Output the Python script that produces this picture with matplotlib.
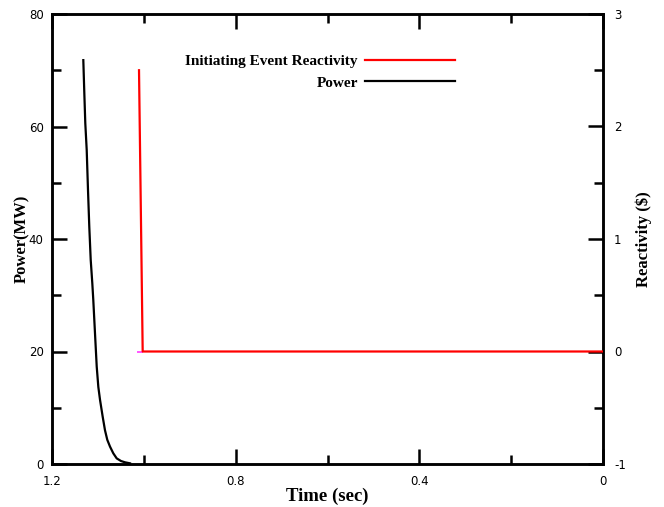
import matplotlib
matplotlib.use("Agg")
import matplotlib.pyplot as plt

plt.rcParams["axes.unicode_minus"] = False

# Power transient (MW) versus time (s)
power_time = [1.1318, 1.1296, 1.1275, 1.1244, 1.1216, 1.1188, 1.1157, 1.1122,
              1.1101, 1.1064, 1.1026, 1.0991, 1.0954, 1.0896, 1.0846, 1.0796,
              1.0737, 1.0665, 1.0591, 1.0497, 1.0410, 1.0301]
power_mw = [71.8, 65.9, 60.6, 55.8, 48.7, 42.2, 36.3, 32.1,
            29.2, 23.3, 17.3, 13.7, 11.4, 8.4, 6.0, 4.3,
            3.1, 1.9, 1.0, 0.53, 0.30, 0.12]

# Initiating event reactivity ($) versus time (s)
react_time = [0.0, 1.0025, 1.0105]
react_dollars = [0.0, 0.0, 2.5]

# short reference trace at zero reactivity
ref_time = [1.004, 1.0127]
ref_dollars = [0.0, 0.0]

x_ticks = [0.0, 0.4, 0.8, 1.2]
x_minor = [0.2, 0.6, 1.0]
power_ticks = [0, 20, 40, 60, 80]
power_minor = [10, 30, 50, 70]
react_ticks = [-1, 0, 1, 2, 3]
react_minor = [-0.5, 0.5, 1.5, 2.5]

serif_bold = dict(family=["Liberation Serif", "DejaVu Serif"], weight="bold")
tick_font = ["DejaVu Sans"]
tick_size = 8.5

fig = plt.figure(figsize=(6.64, 5.07), dpi=100)
ax = fig.add_axes([52 / 664, 43 / 507, 551 / 664, 450 / 507])
ax2 = ax.twinx()

ax.plot(power_time, power_mw, color="black", lw=1.6, label="Power", zorder=3)
ax2.plot(ref_time, ref_dollars, color="#ff55ff", lw=1.4, zorder=2)
ax2.plot(react_time, react_dollars, color="#ff0000", lw=1.6,
         label="Initiating Event Reactivity", zorder=3)

ax.set_xlim(1.2, 0.0)
ax.set_ylim(0, 80)
ax2.set_ylim(-1, 3)

ax.set_xticks(x_ticks)
ax.set_xticklabels([f"{v:g}" for v in x_ticks])
ax.set_xticks(x_minor, minor=True)
ax.set_yticks(power_ticks)
ax.set_yticks(power_minor, minor=True)
ax2.set_yticks(react_ticks)
ax2.set_yticks(react_minor, minor=True)

for a in (ax, ax2):
    for s in a.spines.values():
        s.set_linewidth(1.8)

ax.tick_params(axis="x", which="both", direction="in", top=True, bottom=True,
               width=1.8, pad=8, labelsize=tick_size)
ax.tick_params(axis="x", which="major", length=11)
ax.tick_params(axis="x", which="minor", length=6.5)
ax.tick_params(axis="y", which="both", direction="in", width=1.8, pad=6,
               labelsize=tick_size)
ax.tick_params(axis="y", which="major", length=11)
ax.tick_params(axis="y", which="minor", length=6.5)
ax2.tick_params(axis="y", which="both", direction="in", width=1.8, pad=8,
                labelsize=tick_size)
ax2.tick_params(axis="y", which="major", length=11)
ax2.tick_params(axis="y", which="minor", length=6.5)

for lab in ax.get_xticklabels() + ax.get_yticklabels() + ax2.get_yticklabels():
    lab.set_family(tick_font)

ax.set_xlabel("Time (sec)", fontsize=13.5, **serif_bold)
ax.xaxis.label.set_va("center")
ax.xaxis.set_label_coords(0.5, -0.071)

ax.set_ylabel("Power(MW)", fontsize=12, **serif_bold)
ax.yaxis.label.set_va("center")
ax.yaxis.set_label_coords(-0.055, 0.5)

ax2.set_ylabel("Reactivity ($)", fontsize=12, **serif_bold)
ax2.yaxis.label.set_va("center")
ax2.yaxis.set_label_coords(1.074, 0.5)

h2, l2 = ax2.get_legend_handles_labels()
h1, l1 = ax.get_legend_handles_labels()
ax.legend(h2 + h1, l2 + l1, loc="center right",
          bbox_to_anchor=(0.7314, 0.871), frameon=False, markerfirst=False,
          handlelength=5.9, handletextpad=0.45, labelspacing=0.5,
          borderpad=0, borderaxespad=0,
          prop=dict(family=["Liberation Serif", "DejaVu Serif"],
                    weight="bold", size=11))

fig.savefig("out.png", dpi=100)
